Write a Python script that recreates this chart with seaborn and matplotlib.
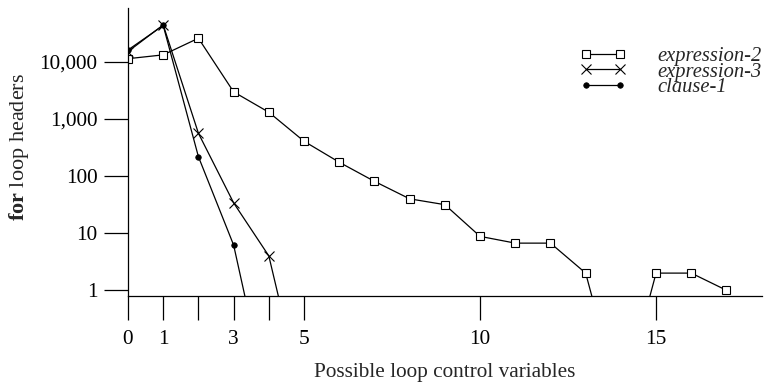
import numpy as np
import pandas as pd
import matplotlib
matplotlib.use("Agg")
import matplotlib.pyplot as plt
import seaborn as sns

# ---- data ----
x_vals = list(range(0, 18))
expression_2 = [11400, 13300, 26000, 2990, 1315, 408, 175, 81, 40, 31.6, 8.8, 6.7, 6.7, 2, 0, 2, 2, 1]
expression_3 = [15200, 44500, 563, 34, 4.0, 0, 0, 0, 0, 0, 0, 0, 0, 0, 0, 0, 0, 0]
clause_1 = [16200, 43500, 219, 6.2, 0, 0, 0, 0, 0, 0, 0, 0, 0, 0, 0, 0, 0, 0]
series_names = ["expression-2", "expression-3", "clause-1"]
xtick_pos = [0, 1, 2, 3, 4, 5, 10, 15]
xtick_labels = ["0", "1", "", "3", "", "5", "10", "15"]
ytick_pos = [1, 10, 100, 1000, 10000]
ytick_labels = ["1", "10", "100", "1,000", "10,000"]
ZERO_FLOOR = 0.01  # zeros drawn below the axis on the log scale

sns.set_style("ticks")
plt.rcParams["font.family"] = ["Liberation Serif", "DejaVu Serif"]
plt.rcParams["mathtext.fontset"] = "custom"
plt.rcParams["mathtext.rm"] = "Liberation Serif"
plt.rcParams["mathtext.bf"] = "Liberation Serif:bold"
plt.rcParams["mathtext.it"] = "Liberation Serif:italic"

rows = []
for name, vals in zip(series_names, [expression_2, expression_3, clause_1]):
    for xv, yv in zip(x_vals, vals):
        rows.append({"x": xv, "y": yv if yv > 0 else ZERO_FLOOR, "series": name})
df = pd.DataFrame(rows)

fig = plt.figure(figsize=(7.65, 3.83), dpi=100)
ax = fig.add_axes([128 / 765, 1 - 295.7 / 383, (761.7 - 128) / 765, (295.7 - 8.3) / 383])

styles = {
    "expression-2": dict(marker="s", markersize=6.3, markerfacecolor="white", markeredgecolor="black", markeredgewidth=0.8),
    "expression-3": dict(marker="x", markersize=7.5, markeredgecolor="black", markeredgewidth=0.8),
    "clause-1": dict(marker="o", markersize=4, markerfacecolor="black", markeredgecolor="black", markeredgewidth=0.5),
}
for name in series_names:
    sub = df[df["series"] == name]
    sns.lineplot(data=sub, x="x", y="y", ax=ax, color="black", linewidth=0.9,
                 label=name, estimator=None, **styles[name])

ax.set_yscale("log")
ax.set_xlim(0, 18)
ax.set_ylim(0.804, 87000)
ax.set_xticks(xtick_pos, labels=xtick_labels)
ax.set_yticks(ytick_pos, labels=ytick_labels)
ax.yaxis.set_minor_locator(matplotlib.ticker.NullLocator())
ax.tick_params(axis="both", direction="out", length=17, width=0.9, color="black",
               labelsize=15.3, labelcolor="black")
ax.tick_params(axis="x", pad=7.5)
ax.tick_params(axis="y", pad=5)
for s in ["top", "right"]:
    ax.spines[s].set_visible(False)
for s in ["left", "bottom"]:
    ax.spines[s].set_linewidth(0.9)
    ax.spines[s].set_color("black")

ax.set_xlabel("Possible loop control variables", fontsize=15.3, labelpad=10.5)
ax.set_ylabel(r"$\mathbf{for}$ loop headers", fontsize=16)
ax.yaxis.set_label_coords(-0.153, 0.517)

leg = ax.legend(loc="upper left", bbox_to_anchor=(0.684, 0.930), frameon=False,
                numpoints=2, handlelength=2.25, handletextpad=1.5,
                labelspacing=-0.20, prop={"family": "Liberation Serif", "style": "italic", "size": 14.8})

fig.savefig("out.png", dpi=100)
